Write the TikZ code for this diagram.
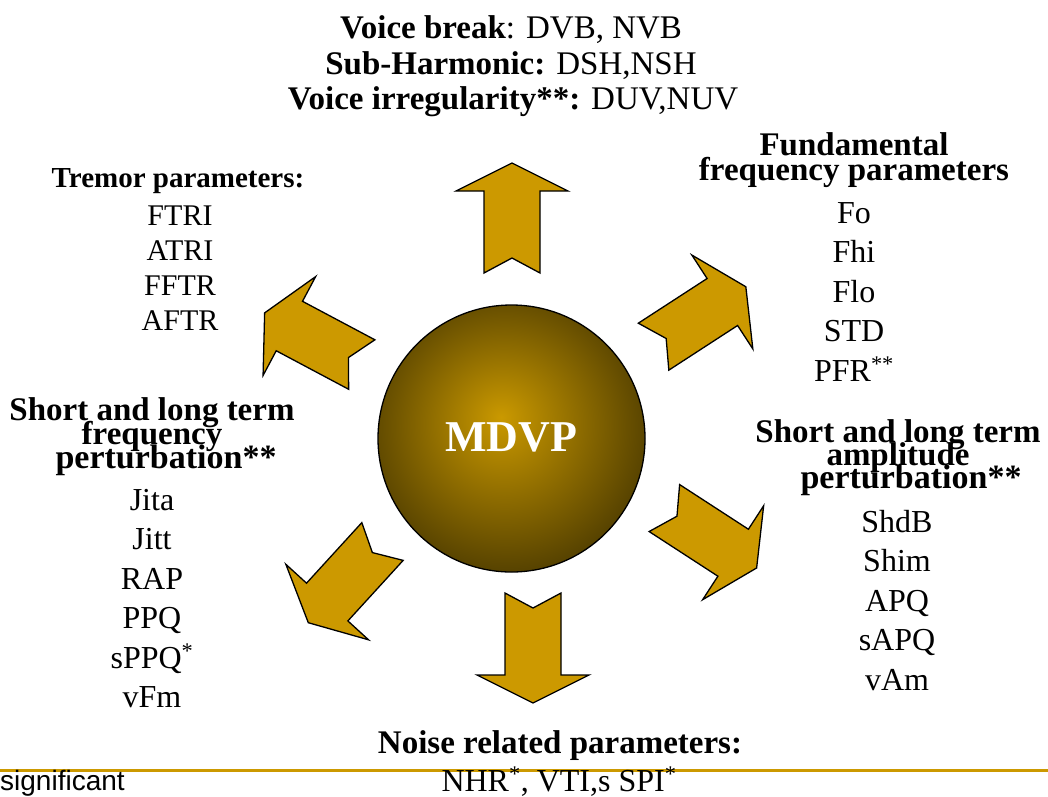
\documentclass[tikz,border=0pt]{standalone}
\usepackage{fontspec}
\setmainfont{Liberation Serif}
\setsansfont{Liberation Sans}
\usepackage{tikz}

\definecolor{mdvpgold}{RGB}{204,153,0}
\definecolor{balllight}{RGB}{202,153,0}
\definecolor{balldark}{RGB}{86,66,0}

\pgfdeclareradialshading{mdvpball}{\pgfpoint{-2bp}{4bp}}{color(0bp)=(balllight); color(27bp)=(balldark); color(50bp)=(balldark)}

\newcommand{\topsize}{\fontsize{33}{36}\selectfont}
\newcommand{\headsize}{\fontsize{33}{24}\selectfont\bfseries}
\newcommand{\itemsize}{\fontsize{32}{39}\selectfont}

\tikzset{
  txt/.style={inner sep=0pt, anchor=base},
  head/.style={txt, font=\headsize},
  item/.style={txt, font=\itemsize},
  blockarrow/.style={fill=mdvpgold, draw=black, line width=1.3pt, line join=miter},
  chevron/.pic={
    \path[blockarrow] (-55,28) -- (27,28) -- (27,56) -- (55,0) -- (27,-56)
      -- (27,-28) -- (-55,-28) -- (-40,0) -- cycle;
  }
}

\begin{document}
\begin{tikzpicture}[x=1pt,y=-1pt]
  \useasboundingbox (0,0) rectangle (1048,796);

  % centre ball
  \node[circle, draw=black, line width=1.3pt, shading=mdvpball,
        minimum size=267pt, inner sep=0pt] (mdvp) at (511.5,438.5) {};
  \node[txt, text=white, font=\fontsize{44}{46}\selectfont\bfseries]
    (mdvplabel) at (511,451) {MDVP};

  % arrows round the ball
  \pic[rotate=90]     at (512,218)     {chevron};
  \pic[rotate=33]     at (699.7,316.7) {chevron};
  \pic[rotate=152]    at (313.2,338.7) {chevron};
  \pic[rotate=-33]    at (710.5,538)   {chevron};
  \pic[rotate=-132.4] at (345.4,582.1) {chevron};
  \pic[rotate=-90]    at (533,648)     {chevron};

  % top
  \node[txt, font=\topsize] (vbreak) at (511,38) {\textbf{Voice break}: DVB, NVB};
  \node[txt, font=\topsize] (subharm) at (511,74) {\textbf{Sub-Harmonic:} DSH,NSH};
  \node[txt, font=\topsize] (virreg) at (513,109) {\textbf{Voice irregularity**:} DUV,NUV};

  % tremor
  \node[txt, font=\fontsize{29}{30}\selectfont\bfseries] (trem) at (178,187) {Tremor parameters:};
  \foreach \t [count=\i] in {FTRI,ATRI,FFTR,AFTR}
    \node[txt, font=\fontsize{30}{32}\selectfont] (trem\i) at (180,{225+35*(\i-1)}) {\t};

  % fundamental frequency
  \node[head] (fundA) at (854,155) {Fundamental};
  \node[head] (fundB) at (854,180) {frequency parameters};
  \foreach \t [count=\i] in {Fo,Fhi,Flo,STD,PFR\textsuperscript{**}}
    \node[item] (fund\i) at (854,{223+39.5*(\i-1)}) {\t};

  % frequency perturbation
  \node[head] (freqA) at (152,420) {Short and long term};
  \node[head] (freqB) at (152,444) {frequency};
  \node[head, font=\fontsize{34}{30}\selectfont\bfseries] (freqC) at (166,468) {perturbation**};
  \foreach \t [count=\i] in {Jita,Jitt,RAP,PPQ,sPPQ\textsuperscript{*},vFm}
    \node[item] (freq\i) at (152,{510+39.5*(\i-1)}) {\t};

  % amplitude perturbation
  \node[head] (ampA) at (898,442) {Short and long term};
  \node[head] (ampB) at (898,465) {amplitude};
  \node[head, font=\fontsize{34}{30}\selectfont\bfseries] (ampC) at (911,488) {perturbation**};
  \foreach \t [count=\i] in {ShdB,Shim,APQ,sAPQ,vAm}
    \node[item] (amp\i) at (897,{532+39.5*(\i-1)}) {\t};

  % noise
  \draw[mdvpgold, line width=2.5pt] (0,770.7) -- (1048,770.7);
  \node[txt, font=\topsize\bfseries] (noise) at (560,753) {Noise related parameters:};
  \node[txt, font=\itemsize] (noiseitems) at (559,791)
    {NHR\textsuperscript{*}, VTI,s SPI\textsuperscript{*}};
  \node[txt, anchor=base west, font=\sffamily\fontsize{28}{30}\selectfont]
    (signote) at (0,790) {significant};
\end{tikzpicture}
\end{document}
